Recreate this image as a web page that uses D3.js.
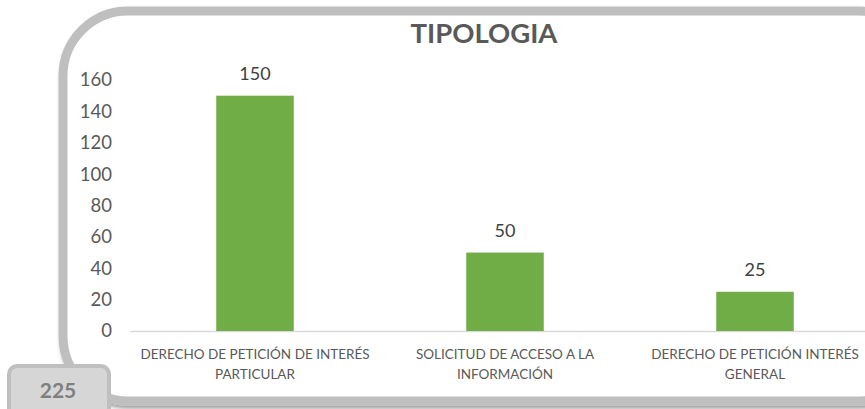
<!DOCTYPE html>
<html><head><meta charset="utf-8">
<script src="https://cdn.jsdelivr.net/npm/d3@7"></script>
<style>body{margin:0;background:#fff;}svg{display:block;}</style>
</head><body>
<script>
const categories = [["DERECHO DE PETICIÓN DE INTERÉS","PARTICULAR"],["SOLICITUD DE ACCESO A LA","INFORMACIÓN"],["DERECHO DE PETICIÓN INTERÉS","GENERAL"]];
const values = [150, 50, 25];
const yTicks = [0,20,40,60,80,100,120,140,160];
const title = "TIPOLOGIA";
const pageNumber = "225";

const W = 865, H = 409;
const font = "Lato, 'Open Sans', sans-serif";
const svg = d3.select("body").append("svg").attr("width", W).attr("height", H);
const defs = svg.append("defs");
const f = defs.append("filter").attr("id","sh").attr("x","-10%").attr("y","-10%").attr("width","130%").attr("height","130%");
f.append("feDropShadow").attr("dx",2).attr("dy",3).attr("stdDeviation",2).attr("flood-color","#000").attr("flood-opacity",0.4);

// frame
svg.append("rect").attr("x",63).attr("y",11).attr("width",860).attr("height",390).attr("rx",65).attr("ry",65)
  .attr("fill","#fff").attr("stroke","#bfbfbf").attr("stroke-width",9).attr("filter","url(#sh)");

const x = d3.scaleBand().domain(d3.range(values.length)).range([130, 880]).paddingInner(0.69).paddingOuter(0.345);
const y = d3.scaleLinear().domain([0,160]).range([331, 80]);

// y axis labels
const ya = svg.append("g").attr("transform","translate(112,0)").call(d3.axisLeft(y).tickValues(yTicks).tickSize(0).tickPadding(0));
ya.select(".domain").remove();
ya.selectAll("text").attr("font-family",font).attr("font-size",18.5).attr("fill","#595959");

// baseline
svg.append("line").attr("x1",130).attr("x2",865).attr("y1",y(0)+0.5).attr("y2",y(0)+0.5).attr("stroke","#d9d9d9").attr("stroke-width",1.5);

// bars
svg.selectAll("rect.bar").data(values).join("rect").attr("class","bar")
  .attr("x",(d,i)=>x(i)).attr("width",x.bandwidth())
  .attr("y",d=>y(d)).attr("height",d=>y(0)-y(d)).attr("fill","#70ad47");

// value labels
svg.selectAll("text.val").data(values).join("text").attr("class","val")
  .attr("x",(d,i)=>x(i)+x.bandwidth()/2).attr("y",d=>y(d)-16)
  .attr("text-anchor","middle").attr("font-family",font).attr("font-size",18).attr("fill","#404040").text(d=>d);

// category labels
const cl = svg.selectAll("text.cat").data(categories).join("text").attr("class","cat")
  .attr("text-anchor","middle").attr("font-family",font).attr("font-size",13.5).attr("fill","#595959");
cl.each(function(d,i){
  const t = d3.select(this);
  d.forEach((line,j)=>{
    t.append("tspan").attr("x",x(i)+x.bandwidth()/2).attr("y",359+j*20).text(line);
  });
});

// title
svg.append("text").attr("x",484).attr("y",43).attr("text-anchor","middle").attr("font-family",font)
  .attr("font-weight","bold").attr("font-size",27.5).attr("fill","#595959").text(title);

// page number box
svg.append("rect").attr("x",9).attr("y",366).attr("width",100).attr("height",60).attr("rx",8)
  .attr("fill","#d6d6d6").attr("stroke","#bfbfbf").attr("stroke-width",4);
svg.append("text").attr("x",58).attr("y",398).attr("text-anchor","middle").attr("font-family",font)
  .attr("font-weight","bold").attr("font-size",21).attr("fill","#7f7f7f").text(pageNumber);
</script>
</body></html>
